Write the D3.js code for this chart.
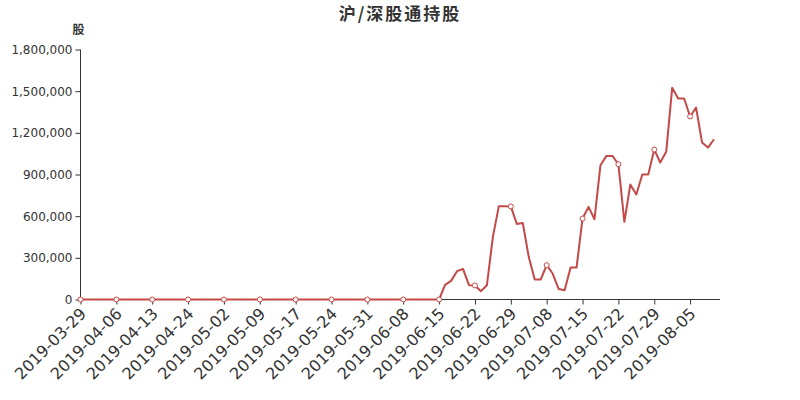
<!DOCTYPE html>
<html>
<head>
<meta charset="utf-8">
<script src="https://cdn.jsdelivr.net/npm/d3@7"></script>
<style>
  html, body { margin: 0; padding: 0; background: #fff; }
  svg { display: block; font-family: "DejaVu Sans", sans-serif; }
</style>
</head>
<body>
<svg id="chart" width="800" height="400"></svg>
<script>
const titleText = "沪/深股通持股";
const yAxisName = "股";

const dates = [
  "2019-03-29","2019-03-30","2019-04-01","2019-04-02","2019-04-03","2019-04-04",
  "2019-04-06","2019-04-08","2019-04-09","2019-04-10","2019-04-11","2019-04-12",
  "2019-04-13","2019-04-15","2019-04-16","2019-04-17","2019-04-18","2019-04-23",
  "2019-04-24","2019-04-25","2019-04-26","2019-04-27","2019-04-29","2019-04-30",
  "2019-05-02","2019-05-03","2019-05-04","2019-05-06","2019-05-07","2019-05-08",
  "2019-05-09","2019-05-10","2019-05-11","2019-05-14","2019-05-15","2019-05-16",
  "2019-05-17","2019-05-18","2019-05-20","2019-05-21","2019-05-22","2019-05-23",
  "2019-05-24","2019-05-25","2019-05-27","2019-05-28","2019-05-29","2019-05-30",
  "2019-05-31","2019-06-01","2019-06-03","2019-06-04","2019-06-05","2019-06-06",
  "2019-06-08","2019-06-10","2019-06-11","2019-06-12","2019-06-13","2019-06-14",
  "2019-06-15","2019-06-17","2019-06-18","2019-06-19","2019-06-20","2019-06-21",
  "2019-06-22","2019-06-24","2019-06-25","2019-06-26","2019-06-27","2019-06-28",
  "2019-06-29","2019-07-02","2019-07-03","2019-07-04","2019-07-05","2019-07-06",
  "2019-07-08","2019-07-09","2019-07-10","2019-07-11","2019-07-12","2019-07-13",
  "2019-07-15","2019-07-16","2019-07-17","2019-07-18","2019-07-19","2019-07-20",
  "2019-07-22","2019-07-23","2019-07-24","2019-07-25","2019-07-26","2019-07-27",
  "2019-07-29","2019-07-30","2019-07-31","2019-08-01","2019-08-02","2019-08-03",
  "2019-08-05","2019-08-06","2019-08-07","2019-08-08","2019-08-09","2019-08-10"
];

const holdings = [
  0,0,0,0,0,0, 0,0,0,0,0,0, 0,0,0,0,0,0, 0,0,0,0,0,0,
  0,0,0,0,0,0, 0,0,0,0,0,0, 0,0,0,0,0,0, 0,0,0,0,0,0,
  0,0,0,0,0,0, 0,0,0,0,0,0,
  0, 105000, 134000, 204000, 220000, 103000,
  101000, 60000, 103000, 451000, 672000, 672000,
  670000, 544000, 551000, 307000, 144000, 144000,
  247000, 187000, 76000, 67000, 230000, 230000,
  583000, 667000, 578000, 967000, 1034000, 1034000,
  974000, 559000, 828000, 756000, 900000, 900000,
  1080000, 986000, 1063000, 1524000, 1447000, 1447000,
  1318000, 1382000, 1130000, 1094000, 1154000, null
];

const yTicks = [0, 300000, 600000, 900000, 1200000, 1500000, 1800000];
const labelEvery = 6;

const svg = d3.select("#chart");
const x0 = 80.5, x1 = 720, y0 = 299.5, y1 = 49.5;

const x = d3.scalePoint().domain(dates).range([x0, x1]);
const y = d3.scaleLinear().domain([0, 1800000]).range([y0, y1]);

const axisColor = "#333";
const lineColor = "#c24a48";

// title
svg.append("text")
  .attr("x", 400).attr("y", 20)
  .attr("text-anchor", "middle")
  .style("font-family", "'Noto Sans CJK SC', sans-serif")
  .style("font-size", "17px")
  .style("font-weight", "bold")
  .style("letter-spacing", "2px")
  .attr("fill", "#333")
  .text(titleText);

// y axis name
svg.append("text")
  .attr("x", 78.5).attr("y", 34)
  .attr("text-anchor", "middle")
  .style("font-family", "'Noto Sans CJK SC', sans-serif")
  .style("font-size", "12px")
  .style("font-weight", "bold")
  .attr("fill", "#333")
  .text(yAxisName);

// y axis
const yAxis = d3.axisLeft(y).tickValues(yTicks).tickSize(5).tickPadding(3)
  .tickFormat(d3.format(","));
const gy = svg.append("g").attr("transform", `translate(${x0},0)`).call(yAxis);
gy.select(".domain").attr("stroke", axisColor).attr("d", `M-0,${y0}V${y1}`);
gy.selectAll(".tick line").attr("stroke", axisColor);
gy.selectAll(".tick text").attr("fill", axisColor).style("font-size", "12px")
  .style("font-family", "'DejaVu Sans', sans-serif");

// x axis
const tickDates = dates.filter((d, i) => i % labelEvery === 0);
const xAxis = d3.axisBottom(x).tickValues(tickDates).tickSize(5).tickFormat(d => d);
const gx = svg.append("g").attr("transform", `translate(0,${y0})`).call(xAxis);
gx.select(".domain").attr("stroke", axisColor).attr("d", `M${x0},0H${x1}`);
gx.selectAll(".tick line").attr("stroke", axisColor);
gx.selectAll(".tick text")
  .attr("fill", axisColor)
  .style("font-size", "16px")
  .style("font-family", "'DejaVu Sans', sans-serif")
  .attr("text-anchor", "end")
  .attr("dy", null)
  .attr("y", null)
  .attr("dominant-baseline", "middle")
  .attr("transform", "translate(3,12) rotate(-45)");

// line
const pts = dates.map((d, i) => ({ d, v: holdings[i] }));
const line = d3.line()
  .defined(p => p.v !== null)
  .x(p => x(p.d))
  .y(p => y(p.v));

svg.append("path")
  .datum(pts)
  .attr("fill", "none")
  .attr("stroke", lineColor)
  .attr("stroke-width", 2)
  .attr("stroke-linejoin", "round")
  .attr("d", line);

// markers at every labelled category
svg.append("g").selectAll("circle")
  .data(pts.filter((p, i) => i % labelEvery === 0 && p.v !== null))
  .join("circle")
  .attr("cx", p => x(p.d))
  .attr("cy", p => y(p.v))
  .attr("r", 2.5)
  .attr("fill", "#fff")
  .attr("stroke", lineColor)
  .attr("stroke-width", 1);
</script>
</body>
</html>
